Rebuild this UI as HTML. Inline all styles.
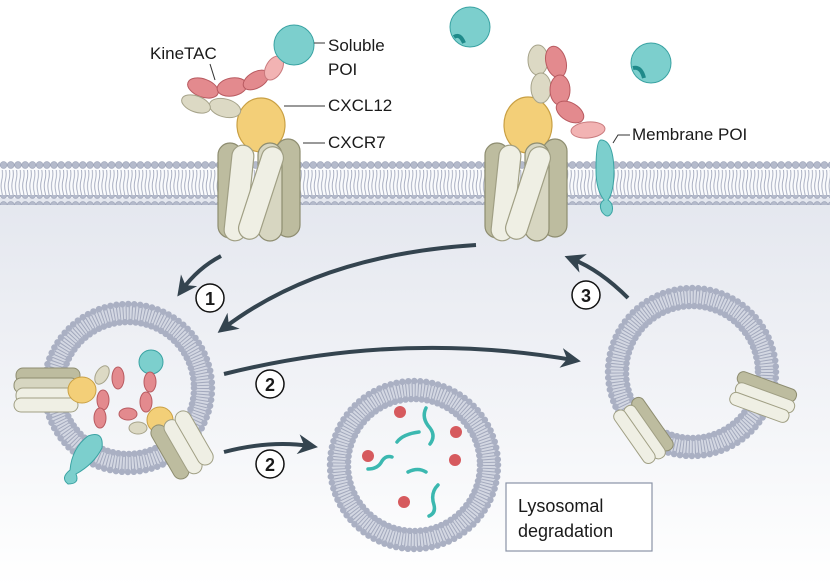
<!DOCTYPE html>
<html><head><meta charset="utf-8"><style>
html,body{margin:0;padding:0;background:#fff}
svg{display:block}
text{font-family:"Liberation Sans",sans-serif;fill:#1a1a1a}
</style></head><body>
<svg width="830" height="587" viewBox="0 0 830 587" xmlns="http://www.w3.org/2000/svg">
<defs>
<linearGradient id="bg" x1="0" y1="0" x2="0" y2="1">
<stop offset="0" stop-color="#e3e6ee"/><stop offset="1" stop-color="#ffffff"/>
</linearGradient>
<pattern id="heads" x="0" y="0" width="7.2" height="10" patternUnits="userSpaceOnUse">
<circle cx="3.6" cy="5" r="3.4" fill="#b4bacb" stroke="#9aa1b6" stroke-width="0.6"/>
</pattern>
<pattern id="tails" x="0" y="0" width="3.6" height="24" patternUnits="userSpaceOnUse">
<path d="M1.8 0 q1.5 6 0 12 q-1.5 6 0 12" stroke="#a3a9bd" stroke-width="0.9" fill="none"/>
</pattern>
<g id="rec">
<rect x="2" y="8" width="24" height="95" rx="12" fill="#bdbc9f" stroke="#8e8d70" stroke-width="1.2"/>
<rect x="60" y="4" width="24" height="98" rx="12" fill="#bdbc9f" stroke="#8e8d70" stroke-width="1.2"/>
<rect x="42" y="8" width="24" height="98" rx="12" fill="#d7d6c1" stroke="#8e8d70" stroke-width="1.2"/>
<rect x="12" y="10" width="22" height="96" rx="11" fill="#efefe4" stroke="#a09f84" stroke-width="1.2" transform="rotate(6 23 58)"/>
<rect x="34" y="10" width="22" height="96" rx="11" fill="#efefe4" stroke="#a09f84" stroke-width="1.2" transform="rotate(18 45 58)"/>
</g>
<g id="ves">
<circle r="75" fill="none" stroke="#d3d7e2" stroke-width="16"/>
<circle r="75" fill="none" stroke="#a3a9bd" stroke-width="14" stroke-dasharray="1 2"/>
<circle r="84" fill="none" stroke="#aab0c3" stroke-width="6.5" stroke-dasharray="0 6" stroke-linecap="round"/>
<circle r="66" fill="none" stroke="#aab0c3" stroke-width="6.5" stroke-dasharray="0 5.4" stroke-linecap="round"/>
</g>
<marker id="ah" viewBox="0 0 10 10" refX="6" refY="5" markerWidth="5" markerHeight="5" orient="auto">
<path d="M0 0 L10 5 L0 10 L3 5z" fill="#34444f"/>
</marker>
</defs>
<rect width="830" height="587" fill="#fff"/>
<rect x="0" y="182" width="830" height="405" fill="url(#bg)"/>
<rect x="0" y="168" width="830" height="30" fill="#fafbfd"/>
<rect x="0" y="170" width="830" height="26" fill="url(#tails)"/>
<rect x="0" y="160" width="830" height="10" fill="url(#heads)"/>
<rect x="0" y="195" width="830" height="10" fill="url(#heads)"/>

<ellipse cx="261" cy="125" rx="24" ry="27" fill="#f3cf78" stroke="#c9a044" stroke-width="1.2"/>
<use href="#rec" x="216" y="135"/>
<ellipse cx="203" cy="88" rx="16" ry="9" fill="#e38a8e" stroke="#b85a60" transform="rotate(20 203 88)"/>
<ellipse cx="225" cy="108" rx="16" ry="9" fill="#dcd9c4" stroke="#a6a38a" transform="rotate(15 225 108)"/>
<ellipse cx="196" cy="104" rx="15" ry="8" fill="#dcd9c4" stroke="#a6a38a" transform="rotate(20 196 104)"/>
<ellipse cx="232" cy="87" rx="15" ry="9" fill="#e38a8e" stroke="#b85a60" transform="rotate(-10 232 87)"/>
<ellipse cx="256" cy="80" rx="14" ry="8" fill="#e38a8e" stroke="#b85a60" transform="rotate(-30 256 80)"/>
<ellipse cx="274" cy="68" rx="13" ry="8" fill="#f2b3b3" stroke="#c97a7d" transform="rotate(-60 274 68)"/>
<circle cx="294" cy="45" r="20" fill="#7ccfcd" stroke="#3aa3a3"/>
<text x="150" y="59" font-size="17">KineTAC</text>
<path d="M210 64 L215 80" stroke="#333" fill="none"/>
<text x="328" y="51" font-size="17">Soluble</text>
<text x="328" y="75" font-size="17">POI</text>
<path d="M314 43 L325 43" stroke="#333"/>
<text x="328" y="111" font-size="17">CXCL12</text>
<path d="M284 106 L325 106" stroke="#333"/>
<text x="328" y="148" font-size="17">CXCR7</text>
<path d="M303 143 L325 143" stroke="#333"/>

<circle cx="470" cy="27" r="20" fill="#7ccfcd" stroke="#3aa3a3"/>
<path d="M454 37 q6 -4 10 6" stroke="#1f8a8a" stroke-width="4" fill="none"/>
<circle cx="651" cy="63" r="20" fill="#7ccfcd" stroke="#3aa3a3"/>
<path d="M633 68 q8 -2 11 10" stroke="#1f8a8a" stroke-width="4" fill="none"/>

<ellipse cx="528" cy="125" rx="24" ry="28" fill="#f3cf78" stroke="#c9a044" stroke-width="1.2"/>
<use href="#rec" x="483" y="135"/>
<ellipse cx="538" cy="60" rx="10" ry="15" fill="#dcd9c4" stroke="#a6a38a"/>
<ellipse cx="541" cy="88" rx="10" ry="15" fill="#dcd9c4" stroke="#a6a38a"/>
<ellipse cx="556" cy="62" rx="10" ry="16" fill="#e38a8e" stroke="#b85a60" transform="rotate(-15 556 62)"/>
<ellipse cx="560" cy="90" rx="10" ry="15" fill="#e38a8e" stroke="#b85a60"/>
<ellipse cx="570" cy="112" rx="15" ry="9" fill="#e38a8e" stroke="#b85a60" transform="rotate(30 570 112)"/>
<ellipse cx="588" cy="130" rx="17" ry="8" fill="#f2b3b3" stroke="#c97a7d" transform="rotate(-5 588 130)"/>
<path d="M601 140 q12 0 13 30 q0 22 -6 30 q6 4 4 12 q-4 8 -10 0 q-4 -8 2 -12 q-8 -10 -8 -30 q0 -30 5 -30z" fill="#7ccfcd" stroke="#3aa3a3"/>
<text x="632" y="140" font-size="17">Membrane POI</text>
<path d="M613 143 L618 135 L630 135" stroke="#333" fill="none"/>

<use href="#ves" x="128" y="388"/>
<use href="#ves" x="414" y="465"/>
<use href="#ves" x="692" y="372"/>

<!-- left vesicle contents -->
<g transform="translate(14 368)">
<rect x="2" y="0" width="64" height="15" rx="7" fill="#bdbc9f" stroke="#8e8d70"/>
<rect x="0" y="10" width="64" height="15" rx="7" fill="#d7d6c1" stroke="#8e8d70"/>
<rect x="2" y="20" width="64" height="15" rx="7" fill="#efefe4" stroke="#a09f84"/>
<rect x="0" y="30" width="64" height="14" rx="7" fill="#efefe4" stroke="#a09f84"/>
</g>
<ellipse cx="82" cy="390" rx="14" ry="13" fill="#f3cf78" stroke="#c9a044"/>
<ellipse cx="102" cy="375" rx="6" ry="10" fill="#dcd9c4" stroke="#a6a38a" transform="rotate(30 102 375)"/>
<ellipse cx="118" cy="378" rx="6" ry="11" fill="#e38a8e" stroke="#b85a60"/>
<ellipse cx="103" cy="400" rx="6" ry="10" fill="#e38a8e" stroke="#b85a60"/>
<ellipse cx="100" cy="418" rx="6" ry="10" fill="#e38a8e" stroke="#b85a60"/>
<path d="M88 436 q16 -6 14 12 q-8 16 -26 26 q4 10 -8 10 q-8 -6 2 -14 q2 -22 18 -34z" fill="#7ccfcd" stroke="#3aa3a3"/>
<circle cx="151" cy="362" r="12" fill="#7ccfcd" stroke="#3aa3a3"/>
<ellipse cx="150" cy="382" rx="6" ry="10" fill="#e38a8e" stroke="#b85a60"/>
<ellipse cx="146" cy="402" rx="6" ry="10" fill="#e38a8e" stroke="#b85a60"/>
<ellipse cx="128" cy="414" rx="9" ry="6" fill="#e38a8e" stroke="#b85a60"/>
<ellipse cx="138" cy="428" rx="9" ry="6" fill="#dcd9c4" stroke="#a6a38a"/>
<circle cx="160" cy="420" r="13" fill="#f3cf78" stroke="#c9a044"/>
<g transform="translate(148 430) rotate(-30)">
<rect x="0" y="0" width="16" height="60" rx="8" fill="#bdbc9f" stroke="#8e8d70"/>
<rect x="14" y="2" width="16" height="60" rx="8" fill="#efefe4" stroke="#a09f84"/>
<rect x="28" y="0" width="16" height="60" rx="8" fill="#efefe4" stroke="#a09f84"/>
</g>

<g transform="translate(740 370) rotate(20)">
<rect x="0" y="0" width="62" height="13" rx="6" fill="#bdbc9f" stroke="#8e8d70"/>
<rect x="2" y="11" width="62" height="13" rx="6" fill="#efefe4" stroke="#a09f84"/>
<rect x="0" y="22" width="62" height="13" rx="6" fill="#efefe4" stroke="#a09f84"/>
</g>
<g transform="translate(640 395) rotate(55)">
<rect x="0" y="0" width="62" height="13" rx="6" fill="#bdbc9f" stroke="#8e8d70"/>
<rect x="2" y="11" width="62" height="13" rx="6" fill="#efefe4" stroke="#a09f84"/>
<rect x="0" y="22" width="62" height="13" rx="6" fill="#efefe4" stroke="#a09f84"/>
</g>

<g fill="#d65a5e">
<circle cx="400" cy="412" r="6"/><circle cx="456" cy="432" r="6"/><circle cx="368" cy="456" r="6"/>
<circle cx="455" cy="460" r="6"/><circle cx="404" cy="502" r="6"/>
</g>
<g stroke="#3bb8b0" stroke-width="3.5" fill="none" stroke-linecap="round">
<path d="M426 408 q-5 10 4 20 q6 8 0 16"/>
<path d="M397 442 q6 -8 22 -10"/>
<path d="M368 469 q10 0 14 -8 q4 -6 10 -4"/>
<path d="M408 472 q10 -5 18 0"/>
<path d="M438 485 q-8 8 -4 20 q2 8 -5 11"/>
</g>

<g stroke="#34444f" stroke-width="4" fill="none" marker-end="url(#ah)">
<path d="M221 256 Q198 268 182 290"/>
<path d="M476 245 Q320 255 224 328"/>
<path d="M224 374 Q400 330 573 360"/>
<path d="M224 452 Q270 440 310 446"/>
<path d="M628 298 Q600 270 572 259"/>
</g>
<g font-size="18" font-weight="bold">
<circle cx="210" cy="298" r="14" fill="#fff" stroke="#111" stroke-width="1.5"/><text x="210" y="305" text-anchor="middle">1</text>
<circle cx="270" cy="384" r="14" fill="#fff" stroke="#111" stroke-width="1.5"/><text x="270" y="391" text-anchor="middle">2</text>
<circle cx="270" cy="464" r="14" fill="#fff" stroke="#111" stroke-width="1.5"/><text x="270" y="471" text-anchor="middle">2</text>
<circle cx="586" cy="295" r="14" fill="#fff" stroke="#111" stroke-width="1.5"/><text x="586" y="302" text-anchor="middle">3</text>
</g>
<rect x="506" y="483" width="146" height="68" fill="#fff" stroke="#8a93a6" stroke-width="1.2"/>
<text x="518" y="512" font-size="18">Lysosomal</text>
<text x="518" y="537" font-size="18">degradation</text>
</svg>
</body></html>
